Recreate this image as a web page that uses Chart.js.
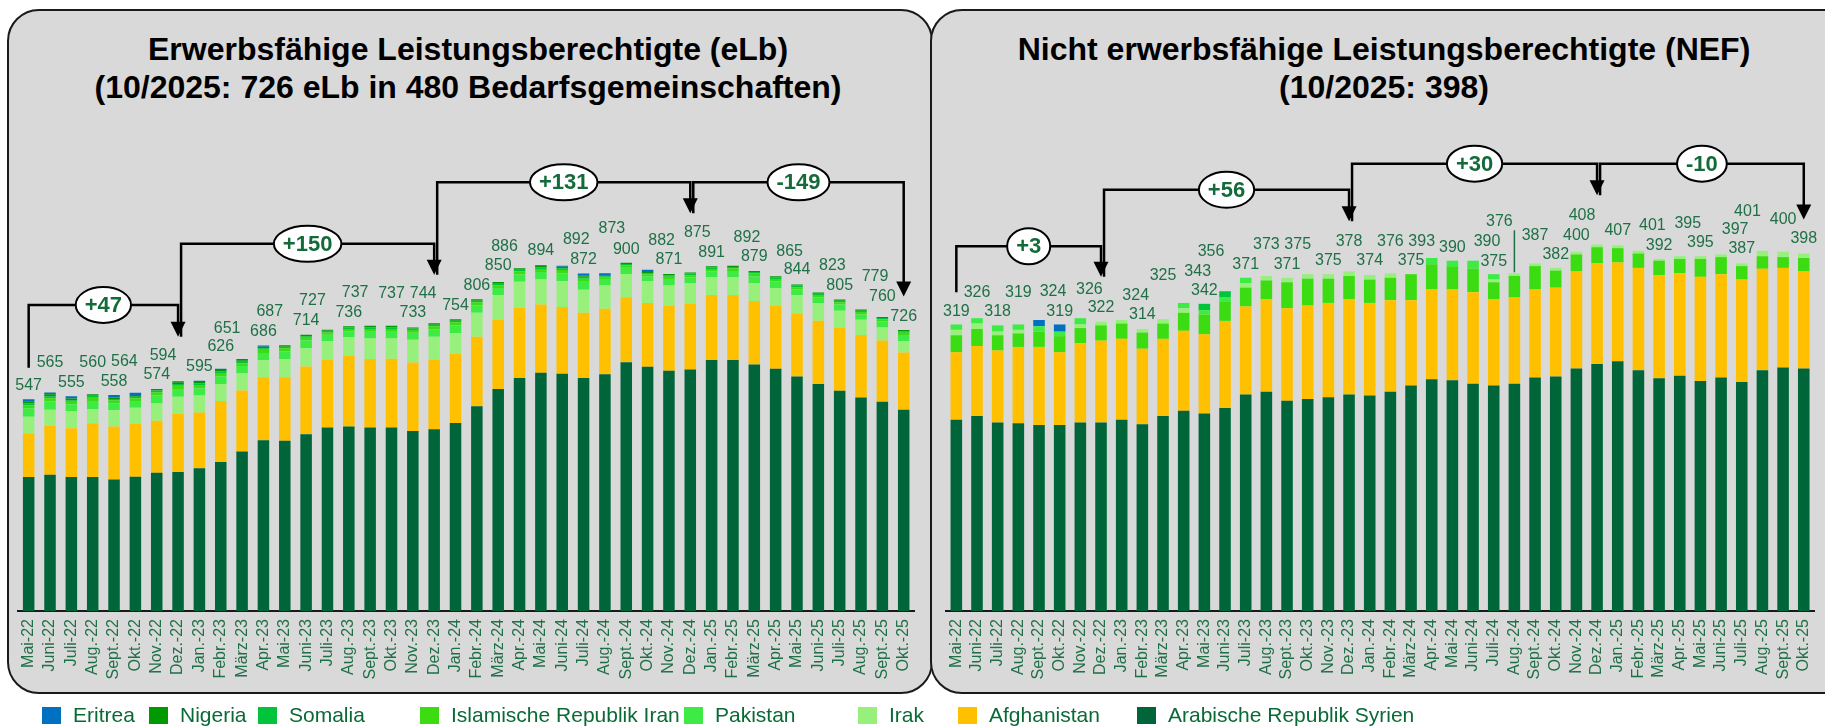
<!DOCTYPE html>
<html lang="de">
<head>
<meta charset="UTF-8">
<title>Leistungsberechtigte nach Staatsangehörigkeit</title>
<script src="https://cdn.jsdelivr.net/npm/chart.js"></script>
<style>
    html, body { margin: 0; padding: 0; width: 1825px; height: 726px; overflow: hidden; background: #fff; font-family: "Liberation Sans", Arial, sans-serif; }
    .panel { position: absolute; top: 9px; height: 685px; background: #d9d9d9; border: 2px solid #1a1a1a; border-radius: 32px; box-sizing: border-box; }
    #panelLeft { left: 7px; width: 926px; }
    #panelRight { left: 930px; width: 940px; }
    .title { position: absolute; top: 30px; text-align: center; font-weight: bold; font-size: 32px; line-height: 38px; color: #000; white-space: nowrap; transform: translateX(-50%); }
    canvas { position: absolute; top: 0; }
    .leg { position: absolute; top: 705px; height: 20px; display: flex; align-items: center; white-space: nowrap; font-size: 21px; color: #0a6a36; }
    .leg span.box { display: inline-block; width: 19px; height: 17px; margin-right: 12px; }
</style>
</head>
<body>
    <div class="panel" id="panelLeft"></div>
    <div class="panel" id="panelRight"></div>
    <div class="title" style="left:468px">Erwerbsfähige Leistungsberechtigte (eLb)<br>(10/2025: 726 eLb in 480 Bedarfsgemeinschaften)</div>
    <div class="title" style="left:1384px">Nicht erwerbsfähige Leistungsberechtigte (NEF)<br>(10/2025: 398)</div>
    <canvas id="elbChart" width="931" height="726" style="left:0"></canvas>
    <canvas id="nefChart" width="900" height="726" style="left:931px"></canvas>
    <div id="legend"></div>

<script>
// Monate (Kategorien)
const months = ['Mai-22','Juni-22','Juli-22','Aug.-22','Sept.-22','Okt.-22','Nov.-22','Dez.-22',
    'Jan.-23','Febr.-23','März-23','Apr.-23','Mai-23','Juni-23','Juli-23','Aug.-23','Sept.-23','Okt.-23','Nov.-23','Dez.-23',
    'Jan.-24','Febr.-24','März-24','Apr.-24','Mai-24','Juni-24','Juli-24','Aug.-24','Sept.-24','Okt.-24','Nov.-24','Dez.-24',
    'Jan.-25','Febr.-25','März-25','Apr.-25','Mai-25','Juni-25','Juli-25','Aug.-25','Sept.-25','Okt.-25'];

// eLb nach Staatsangehörigkeit
const elbSyrien      = [346,352,346,346,340,347,357,359,369,385,412,441,440,457,474,477,474,474,465,470,486,529,574,602,616,613,602,612,643,631,621,624,649,649,637,626,606,587,569,552,541,520];
const elbAfghanistan = [113,127,126,139,137,136,135,151,144,158,158,163,164,175,176,183,177,178,177,180,179,180,178,182,176,173,169,169,168,165,167,170,168,168,164,162,163,163,164,161,158,148];
const elbIrak        = [43,41,44,37,42,42,44,44,44,44,44,44,47,48,47,48,53,52,59,59,53,62,65,67,65,66,59,60,60,56,53,53,46,46,47,47,47,46,43,40,34,30];
const elbPakistan    = [22,22,18,21,18,18,21,20,19,20,19,19,20,19,17,15,18,18,18,19,20,19,18,19,19,21,21,15,16,13,17,15,15,16,17,17,15,15,16,14,15,15];
const elbIran        = [8,8,7,8,7,7,8,8,8,8,7,8,8,7,6,6,7,7,7,8,8,8,7,8,8,8,8,6,6,5,6,6,6,6,7,6,6,6,6,6,6,6];
const elbSomalia     = [5,5,4,5,4,4,5,5,4,4,4,4,4,4,4,4,4,4,4,4,4,4,4,4,4,5,5,3,4,3,4,4,4,4,4,4,4,3,4,3,3,4];
const elbNigeria     = [5,5,4,4,4,4,4,4,4,4,4,4,4,4,3,3,4,4,3,4,4,4,4,4,4,4,4,3,3,3,3,3,3,3,3,3,3,3,3,3,3,3];
const elbEritrea     = [5,5,6,0,6,6,0,3,3,3,3,3,0,0,0,0,0,0,0,0,0,0,0,0,2,2,4,5,0,6,0,0,0,0,0,0,0,0,0,0,0,0];

// NEF nach Staatsangehörigkeit
const nefSyrien      = [213,217,210,209,207,207,210,210,213,208,217,223,220,226,241,244,234,236,238,241,240,244,251,258,257,253,251,253,260,261,270,275,278,268,259,262,256,260,255,268,271,270];
const nefAfghanistan = [75,78,80,85,87,81,88,91,90,84,86,89,88,97,98,103,103,104,105,106,103,102,95,100,101,102,96,96,98,99,108,112,110,114,115,114,116,115,114,113,111,108];
const nefIran        = [19,19,17,15,17,18,17,17,17,18,17,20,22,21,21,21,29,30,27,26,26,25,29,28,25,26,19,24,26,19,19,18,16,16,16,16,20,19,15,14,12,15];
const nefIrak        = [6,6,4,4,0,0,4,4,4,4,5,5,0,0,5,5,5,5,5,5,5,5,0,0,0,0,3,3,3,3,3,3,3,3,2,3,3,3,3,6,6,5];
const nefPakistan    = [6,6,7,6,6,5,7,0,0,0,0,6,5,5,6,0,0,0,0,0,0,0,0,7,7,9,6,0,0,0,0,0,0,0,0,0,0,0,0,0,0,0];
const nefSomalia     = [0,0,0,0,0,0,0,0,0,0,0,0,7,7,0,0,0,0,0,0,0,0,0,0,0,0,0,0,0,0,0,0,0,0,0,0,0,0,0,0,0,0];
const nefNigeria     = [0,0,0,0,0,0,0,0,0,0,0,0,0,0,0,0,0,0,0,0,0,0,0,0,0,0,0,0,0,0,0,0,0,0,0,0,0,0,0,0,0,0];
const nefEritrea     = [0,0,0,0,7,8,0,0,0,0,0,0,0,0,0,0,0,0,0,0,0,0,0,0,0,0,0,0,0,0,0,0,0,0,0,0,0,0,0,0,0,0];

const colors = {
    eritrea: '#0070c0', nigeria: '#009a00', somalia: '#00c43a', iran: '#3cdc12',
    pakistan: '#3eeb45', irak: '#98f07c', afghanistan: '#ffc000', syrien: '#00663a'
};
const labelGreen = '#1f7046';
const fontFamily = '"Liberation Sans", Arial, sans-serif';

// Beschriftungen etwas versetzt wie im Original (Pixel)
const elbLabelDy = [14,30,14,32,14,31,14,26,14,22,31,14,34,14,29,14,33,32,15,30,14,14,17,22,14,26,14,45,13,29,14,40,14,28,14,25,15,27,14,33,20,14];
const elbLabelDx = [0,0,0,0,0,-11,0,-15,0,0,-15,0,-15,0,-15,0,-15,0,0,-11,0,0,0,-15,0,14,0,7,0,14,0,7,0,14,0,14,0,14,0,14,0,0];
const nefLabelDy = [13,26,14,32,28,13,29,14,24,14,43,31,13,40,13,31,13,30,14,30,14,32,14,16,13,19,13,52,28,13,16,29,15,25,13,33,14,25,15,39,32,15];
const nefLabelDx = [0,0,0,0,14,0,9,0,14,0,0,14,0,-14,0,0,0,-10,0,0,0,0,0,-10,0,14,0,-15,0,0,0,-15,0,14,0,8,0,14,0,-15,0,0];

function sumAt(chart, i) {
    return chart.data.datasets.reduce((s, d) => s + d.data[i], 0);
}

// Summen über den Säulen
const totalsPlugin = {
    id: 'totals',
    afterDatasetsDraw(chart, args, opts) {
        const ctx = chart.ctx, x = chart.scales.x, y = chart.scales.y;
        ctx.save();
        ctx.font = '16px ' + fontFamily;
        ctx.fillStyle = labelGreen;
        ctx.strokeStyle = labelGreen;
        ctx.textAlign = 'center';
        ctx.textBaseline = 'middle';
        chart.data.labels.forEach((lab, i) => {
            const total = sumAt(chart, i);
            const xc = x.getPixelForValue(i);
            const top = y.getPixelForValue(total);
            const ly = top - opts.dy[i];
            ctx.fillText(String(total), xc + opts.dx[i], ly);
            if (opts.leader && opts.leader.includes(i)) {
                ctx.lineWidth = 1.5;
                ctx.beginPath();
                ctx.moveTo(xc, ly + 9);
                ctx.lineTo(xc, top - 1);
                ctx.stroke();
            }
        });
        ctx.restore();
    }
};

// Klammern mit Veränderung
const bracketsPlugin = {
    id: 'brackets',
    afterDraw(chart, args, opts) {
        const ctx = chart.ctx, x = chart.scales.x, y = chart.scales.y;
        ctx.save();
        let startVal = opts.start;
        opts.items.forEach((b, k) => {
            const x1 = x.getPixelForValue(b.from) + (k ? 3 : 0);
            const x2 = x.getPixelForValue(b.to);
            const y1 = y.getPixelForValue(startVal);
            const yl = y.getPixelForValue(b.level);
            const yt = y.getPixelForValue(b.tip);
            ctx.strokeStyle = '#000';
            ctx.fillStyle = '#000';
            ctx.lineWidth = 2.5;
            ctx.beginPath();
            ctx.moveTo(x1, y1);
            ctx.lineTo(x1, yl);
            ctx.lineTo(x2, yl);
            ctx.lineTo(x2, yt - 14);
            ctx.stroke();
            ctx.beginPath();
            ctx.moveTo(x2 - 7.5, yt - 15);
            ctx.lineTo(x2 + 7.5, yt - 15);
            ctx.lineTo(x2, yt);
            ctx.closePath();
            ctx.fill();

            const diff = sumAt(chart, b.to) - sumAt(chart, b.from);
            const txt = (diff > 0 ? '+' : '') + diff;
            ctx.font = 'bold 22px ' + fontFamily;
            const rx = Math.max(ctx.measureText(txt).width + 18, 37) / 2;
            const xm = (x1 + x2) / 2;
            ctx.beginPath();
            ctx.ellipse(xm, yl, rx, 18, 0, 0, Math.PI * 2);
            ctx.fillStyle = '#fff';
            ctx.fill();
            ctx.lineWidth = 2;
            ctx.stroke();
            ctx.fillStyle = '#146b3a';
            ctx.textAlign = 'center';
            ctx.textBaseline = 'middle';
            ctx.fillText(txt, xm, yl + 1);
            startVal = b.tip;
        });
        ctx.restore();
    }
};

function buildChart(id, series, yMax, barPct, padding, labelOpts, brackets) {
    return new Chart(document.getElementById(id), {
        type: 'bar',
        data: {
            labels: months,
            datasets: series.map(s => ({
                label: s.name, data: s.data, backgroundColor: s.color,
                borderWidth: 0, barPercentage: barPct, categoryPercentage: 1
            }))
        },
        options: {
            responsive: false,
            animation: false,
            events: [],
            layout: { padding: padding },
            plugins: {
                legend: { display: false },
                tooltip: { enabled: false },
                totals: labelOpts,
                brackets: brackets
            },
            scales: {
                x: {
                    stacked: true,
                    grid: { display: false, drawTicks: false },
                    border: { display: true, color: '#1a1a1a', width: 2 },
                    ticks: { autoSkip: false, maxRotation: 90, minRotation: 90, padding: 8, color: labelGreen, font: { size: 16, family: fontFamily } },
                    afterFit(scale) { scale.height = 80; }
                },
                y: { stacked: true, display: false, min: 0, max: yMax }
            }
        },
        plugins: [totalsPlugin, bracketsPlugin]
    });
}

// Stapelreihenfolge von unten nach oben
const elbSeries = [
    { name: 'Arabische Republik Syrien', data: elbSyrien, color: colors.syrien },
    { name: 'Afghanistan', data: elbAfghanistan, color: colors.afghanistan },
    { name: 'Irak', data: elbIrak, color: colors.irak },
    { name: 'Pakistan', data: elbPakistan, color: colors.pakistan },
    { name: 'Islamische Republik Iran', data: elbIran, color: colors.iran },
    { name: 'Somalia', data: elbSomalia, color: colors.somalia },
    { name: 'Nigeria', data: elbNigeria, color: colors.nigeria },
    { name: 'Eritrea', data: elbEritrea, color: colors.eritrea }
];
const nefSeries = [
    { name: 'Arabische Republik Syrien', data: nefSyrien, color: colors.syrien },
    { name: 'Afghanistan', data: nefAfghanistan, color: colors.afghanistan },
    { name: 'Islamische Republik Iran', data: nefIran, color: colors.iran },
    { name: 'Irak', data: nefIrak, color: colors.irak },
    { name: 'Pakistan', data: nefPakistan, color: colors.pakistan },
    { name: 'Somalia', data: nefSomalia, color: colors.somalia },
    { name: 'Nigeria', data: nefNigeria, color: colors.nigeria },
    { name: 'Eritrea', data: nefEritrea, color: colors.eritrea }
];

buildChart('elbChart', elbSeries, 1300, 0.54, { left: 18, right: 8, top: 108, bottom: 35 },
    { dx: elbLabelDx, dy: elbLabelDy },
    { start: 629, items: [
        { from: 0, to: 7, level: 791, tip: 709 },
        { from: 7, to: 19, level: 949, tip: 869 },
        { from: 19, to: 31, level: 1108, tip: 1028 },
        { from: 31, to: 41, level: 1108, tip: 813 }
    ] });

buildChart('nefChart', nefSeries, 560, 0.56, { left: 15, right: 3, top: 108, bottom: 35 },
    { dx: nefLabelDx, dy: nefLabelDy, leader: [27] },
    { start: 355, items: [
        { from: 0, to: 7, level: 406, tip: 372 },
        { from: 7, to: 19, level: 469, tip: 434 },
        { from: 19, to: 31, level: 498, tip: 463 },
        { from: 31, to: 41, level: 498, tip: 436 }
    ] });

// Legende
const legendItems = [
    ['Eritrea', colors.eritrea], ['Nigeria', colors.nigeria], ['Somalia', colors.somalia],
    ['Islamische Republik Iran', colors.iran], ['Pakistan', colors.pakistan], ['Irak', colors.irak],
    ['Afghanistan', colors.afghanistan], ['Arabische Republik Syrien', colors.syrien]
];
const legendLeft = [42, 149, 258, 420, 684, 858, 958, 1137];
const legendBox = document.getElementById('legend');
legendItems.forEach(([name, color], i) => {
    const item = document.createElement('div');
    item.className = 'leg';
    item.style.left = legendLeft[i] + 'px';
    item.innerHTML = `<span class="box" style="background:${color}"></span><span>${name}</span>`;
    legendBox.appendChild(item);
});
</script>
</body>
</html>
